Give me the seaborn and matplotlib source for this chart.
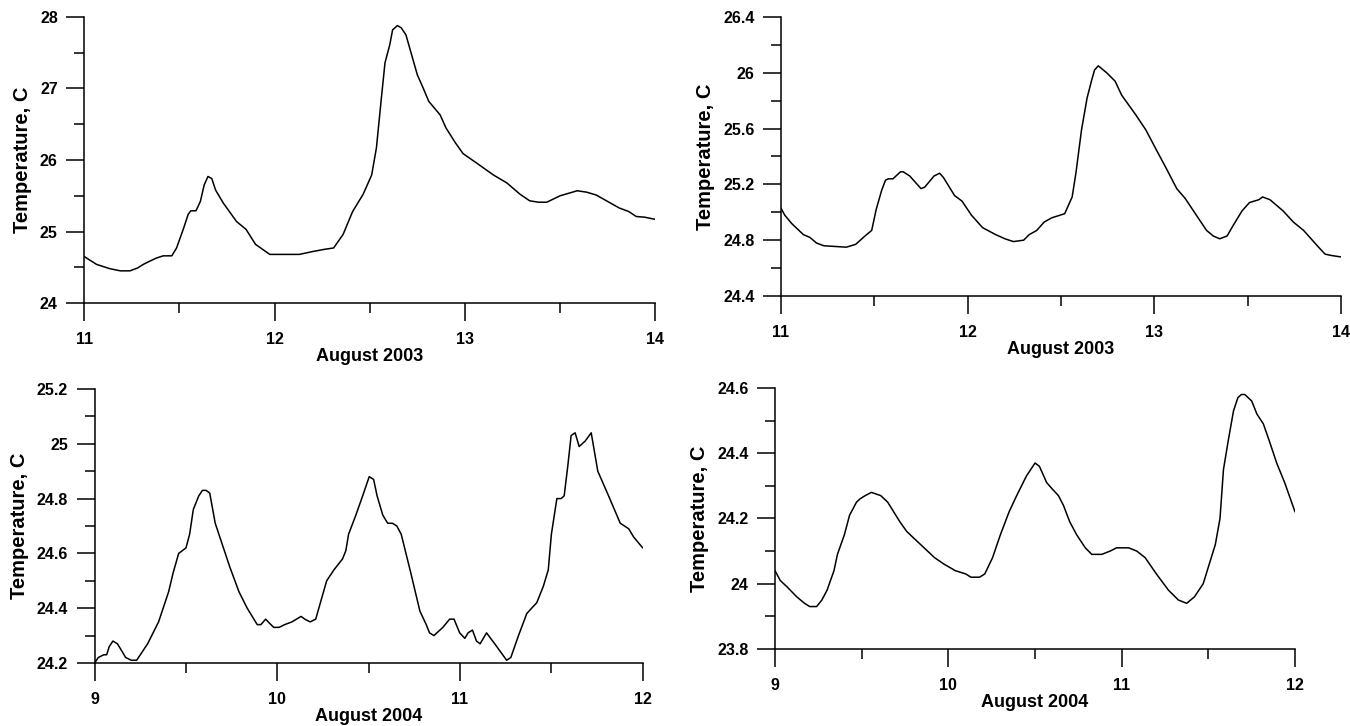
import matplotlib
matplotlib.use("Agg")
import matplotlib.pyplot as plt
from matplotlib.ticker import MultipleLocator, FuncFormatter
import seaborn as sns

# August 2003, left panel
time_03a = [11.0, 11.065, 11.135, 11.19, 11.24, 11.28, 11.31, 11.34, 11.38, 11.415,
            11.46, 11.485, 11.52, 11.546, 11.56, 11.587, 11.61, 11.63, 11.65, 11.67,
            11.69, 11.73, 11.80, 11.85, 11.90, 11.975, 12.13, 12.20, 12.26, 12.31,
            12.36, 12.41, 12.465, 12.51, 12.535, 12.56, 12.58, 12.605, 12.62, 12.645,
            12.665, 12.69, 12.72, 12.75, 12.78, 12.81, 12.87, 12.90, 12.95, 12.99,
            13.06, 13.15, 13.22, 13.29, 13.34, 13.385, 13.43, 13.50, 13.59, 13.64,
            13.69, 13.75, 13.81, 13.86, 13.90, 13.945, 14.0]
temp_03a = [24.65, 24.54, 24.48, 24.45, 24.45, 24.49, 24.54, 24.58, 24.63, 24.66,
            24.66, 24.77, 25.03, 25.24, 25.29, 25.29, 25.42, 25.65, 25.77, 25.74,
            25.58, 25.40, 25.14, 25.03, 24.82, 24.68, 24.68, 24.72, 24.75, 24.77,
            24.96, 25.28, 25.52, 25.79, 26.17, 26.84, 27.36, 27.61, 27.82, 27.88,
            27.85, 27.75, 27.47, 27.19, 27.01, 26.82, 26.63, 26.45, 26.24, 26.09,
            25.96, 25.79, 25.68, 25.52, 25.43, 25.41, 25.41, 25.50, 25.57, 25.55,
            25.51, 25.42, 25.33, 25.28, 25.21, 25.20, 25.17]

# August 2003, right panel
time_03b = [11.0, 11.02, 11.057, 11.12, 11.155, 11.19, 11.23, 11.35, 11.40, 11.45,
            11.486, 11.51, 11.54, 11.56, 11.575, 11.60, 11.64, 11.655, 11.69, 11.75,
            11.77, 11.82, 11.85, 11.87, 11.93, 11.97, 12.02, 12.08, 12.15, 12.20,
            12.245, 12.30, 12.33, 12.37, 12.41, 12.45, 12.52, 12.56, 12.58, 12.61,
            12.64, 12.665, 12.68, 12.70, 12.745, 12.79, 12.825, 12.90, 12.955, 13.01,
            13.07, 13.12, 13.165, 13.22, 13.28, 13.316, 13.35, 13.39, 13.42, 13.47,
            13.51, 13.56, 13.58, 13.62, 13.69, 13.745, 13.80, 13.84, 13.88, 13.915,
            13.95, 14.0]
temp_03b = [25.03, 24.98, 24.92, 24.84, 24.82, 24.78, 24.76, 24.75, 24.77, 24.83,
            24.87, 25.02, 25.16, 25.23, 25.24, 25.24, 25.29, 25.29, 25.26, 25.17,
            25.18, 25.26, 25.28, 25.25, 25.12, 25.08, 24.98, 24.89, 24.84, 24.81,
            24.79, 24.80, 24.84, 24.87, 24.93, 24.96, 24.99, 25.11, 25.28, 25.59,
            25.82, 25.95, 26.02, 26.05, 26.00, 25.94, 25.84, 25.70, 25.59, 25.45,
            25.30, 25.17, 25.10, 24.99, 24.87, 24.83, 24.81, 24.83, 24.90, 25.01,
            25.07, 25.09, 25.11, 25.09, 25.01, 24.93, 24.87, 24.81, 24.75, 24.70,
            24.69, 24.68]

# August 2004, left panel
time_04a = [9.0, 9.02, 9.05, 9.066, 9.08, 9.10, 9.125, 9.17, 9.20, 9.23,
            9.25, 9.29, 9.32, 9.35, 9.38, 9.405, 9.43, 9.46, 9.48, 9.50,
            9.52, 9.54, 9.57, 9.59, 9.61, 9.63, 9.66, 9.70, 9.74, 9.79,
            9.835, 9.89, 9.91, 9.936, 9.95, 9.98, 10.01, 10.04, 10.08, 10.13,
            10.15, 10.18, 10.21, 10.24, 10.27, 10.31, 10.357, 10.375, 10.39, 10.43,
            10.467, 10.503, 10.527, 10.546, 10.577, 10.604, 10.63, 10.654, 10.678, 10.73,
            10.78, 10.815, 10.833, 10.857, 10.906, 10.943, 10.967, 10.998, 11.026, 11.044,
            11.068, 11.09, 11.11, 11.145, 11.19, 11.255, 11.278, 11.32, 11.365, 11.392,
            11.42, 11.456, 11.483, 11.50, 11.53, 11.553, 11.57, 11.59, 11.608, 11.63,
            11.652, 11.685, 11.718, 11.736, 11.754, 11.813, 11.877, 11.923, 11.95, 12.0]
temp_04a = [24.20, 24.22, 24.23, 24.23, 24.26, 24.28, 24.27, 24.22, 24.21, 24.21,
            24.23, 24.27, 24.31, 24.35, 24.41, 24.46, 24.53, 24.60, 24.61, 24.62,
            24.67, 24.76, 24.81, 24.83, 24.83, 24.82, 24.71, 24.63, 24.55, 24.46,
            24.40, 24.34, 24.34, 24.36, 24.35, 24.33, 24.33, 24.34, 24.35, 24.37,
            24.36, 24.35, 24.36, 24.43, 24.50, 24.54, 24.58, 24.61, 24.67, 24.74,
            24.81, 24.88, 24.87, 24.81, 24.74, 24.71, 24.71, 24.70, 24.67, 24.53,
            24.39, 24.34, 24.31, 24.30, 24.33, 24.36, 24.36, 24.31, 24.29, 24.31,
            24.32, 24.28, 24.27, 24.31, 24.27, 24.21, 24.22, 24.30, 24.38, 24.40,
            24.42, 24.48, 24.54, 24.67, 24.80, 24.80, 24.81, 24.92, 25.03, 25.04,
            24.99, 25.01, 25.04, 24.97, 24.90, 24.81, 24.71, 24.69, 24.66, 24.62]

# August 2004, right panel
time_04b = [9.0, 9.03, 9.07, 9.125, 9.17, 9.20, 9.24, 9.27, 9.30, 9.34,
            9.36, 9.40, 9.43, 9.47, 9.49, 9.52, 9.556, 9.61, 9.65, 9.685,
            9.72, 9.76, 9.80, 9.84, 9.92, 9.975, 10.04, 10.10, 10.13, 10.18,
            10.21, 10.255, 10.30, 10.35, 10.394, 10.45, 10.50, 10.525, 10.567, 10.60,
            10.635, 10.664, 10.70, 10.74, 10.79, 10.827, 10.885, 10.933, 10.97, 11.04,
            11.087, 11.135, 11.20, 11.27, 11.327, 11.375, 11.42, 11.47, 11.54, 11.567,
            11.587, 11.615, 11.645, 11.67, 11.69, 11.71, 11.75, 11.78, 11.817, 11.85,
            11.894, 11.94, 12.0]
temp_04b = [24.04, 24.01, 23.99, 23.96, 23.94, 23.93, 23.93, 23.95, 23.98, 24.04,
            24.09, 24.15, 24.21, 24.25, 24.26, 24.27, 24.28, 24.27, 24.25, 24.22,
            24.19, 24.16, 24.14, 24.12, 24.08, 24.06, 24.04, 24.03, 24.02, 24.02,
            24.03, 24.08, 24.15, 24.22, 24.27, 24.33, 24.37, 24.36, 24.31, 24.29,
            24.27, 24.24, 24.19, 24.15, 24.11, 24.09, 24.09, 24.10, 24.11, 24.11,
            24.10, 24.08, 24.03, 23.98, 23.95, 23.94, 23.96, 24.00, 24.12, 24.20,
            24.35, 24.44, 24.53, 24.57, 24.58, 24.58, 24.56, 24.52, 24.49, 24.44,
            24.37, 24.31, 24.22]

sns.set_style("ticks")
plt.rcParams['font.family'] = ['Liberation Sans', 'DejaVu Sans']
plt.rcParams['font.weight'] = 'bold'
plt.rcParams['text.color'] = 'black'
plt.rcParams['axes.labelcolor'] = 'black'
plt.rcParams['xtick.color'] = 'black'
plt.rcParams['ytick.color'] = 'black'

fig = plt.figure(figsize=(13.5, 7.26), dpi=100)

# (position, time, temp, xlim, ylim, y major, y minor, xlabel)
panels = [
    ([0.0624, 0.5826, 0.4230, 0.3940], time_03a, temp_03a, (11, 14), (24, 28), 1.0, 0.5, "August 2003"),
    ([0.5785, 0.5923, 0.4148, 0.3843], time_03b, temp_03b, (11, 14), (24.4, 26.4), 0.4, 0.2, "August 2003"),
    ([0.0701, 0.0868, 0.4060, 0.3774], time_04a, temp_04a, (9, 12), (24.2, 25.2), 0.2, 0.1, "August 2004"),
    ([0.5741, 0.1061, 0.3852, 0.3595], time_04b, temp_04b, (9, 12), (23.8, 24.6), 0.2, 0.1, "August 2004"),
]

fmt = FuncFormatter(lambda v, p: "%g" % round(v, 3))

for pos, t, temp, xl, yl, ymaj, ymin, xlab in panels:
    ax = fig.add_axes(pos)
    sns.lineplot(x=t, y=temp, ax=ax, color='black', linewidth=1.1, estimator=None)
    ax.set_xlim(*xl)
    ax.set_ylim(*yl)
    ax.xaxis.set_major_locator(MultipleLocator(1))
    ax.xaxis.set_minor_locator(MultipleLocator(0.5))
    ax.yaxis.set_major_locator(MultipleLocator(ymaj))
    ax.yaxis.set_minor_locator(MultipleLocator(ymin))
    ax.yaxis.set_major_formatter(fmt)
    ax.tick_params(which='major', length=13, width=1.1, color='black', labelcolor='black',
                   labelsize=11.5, pad=8)
    ax.tick_params(which='minor', length=7, width=1.1, color='black')
    ax.tick_params(axis='y', which='major', pad=6)
    for lab in ax.get_xticklabels() + ax.get_yticklabels():
        lab.set_fontweight('bold')
    sns.despine(ax=ax)
    for s in ['left', 'bottom']:
        ax.spines[s].set_linewidth(1.1)
        ax.spines[s].set_color('black')
    ax.set_xlabel(xlab, fontsize=13, fontweight='bold', labelpad=0.5, color='black')
    ax.set_ylabel("Temperature, C", fontsize=14.5, fontweight='bold', labelpad=6, color='black')

fig.savefig("out.png", dpi=100)
